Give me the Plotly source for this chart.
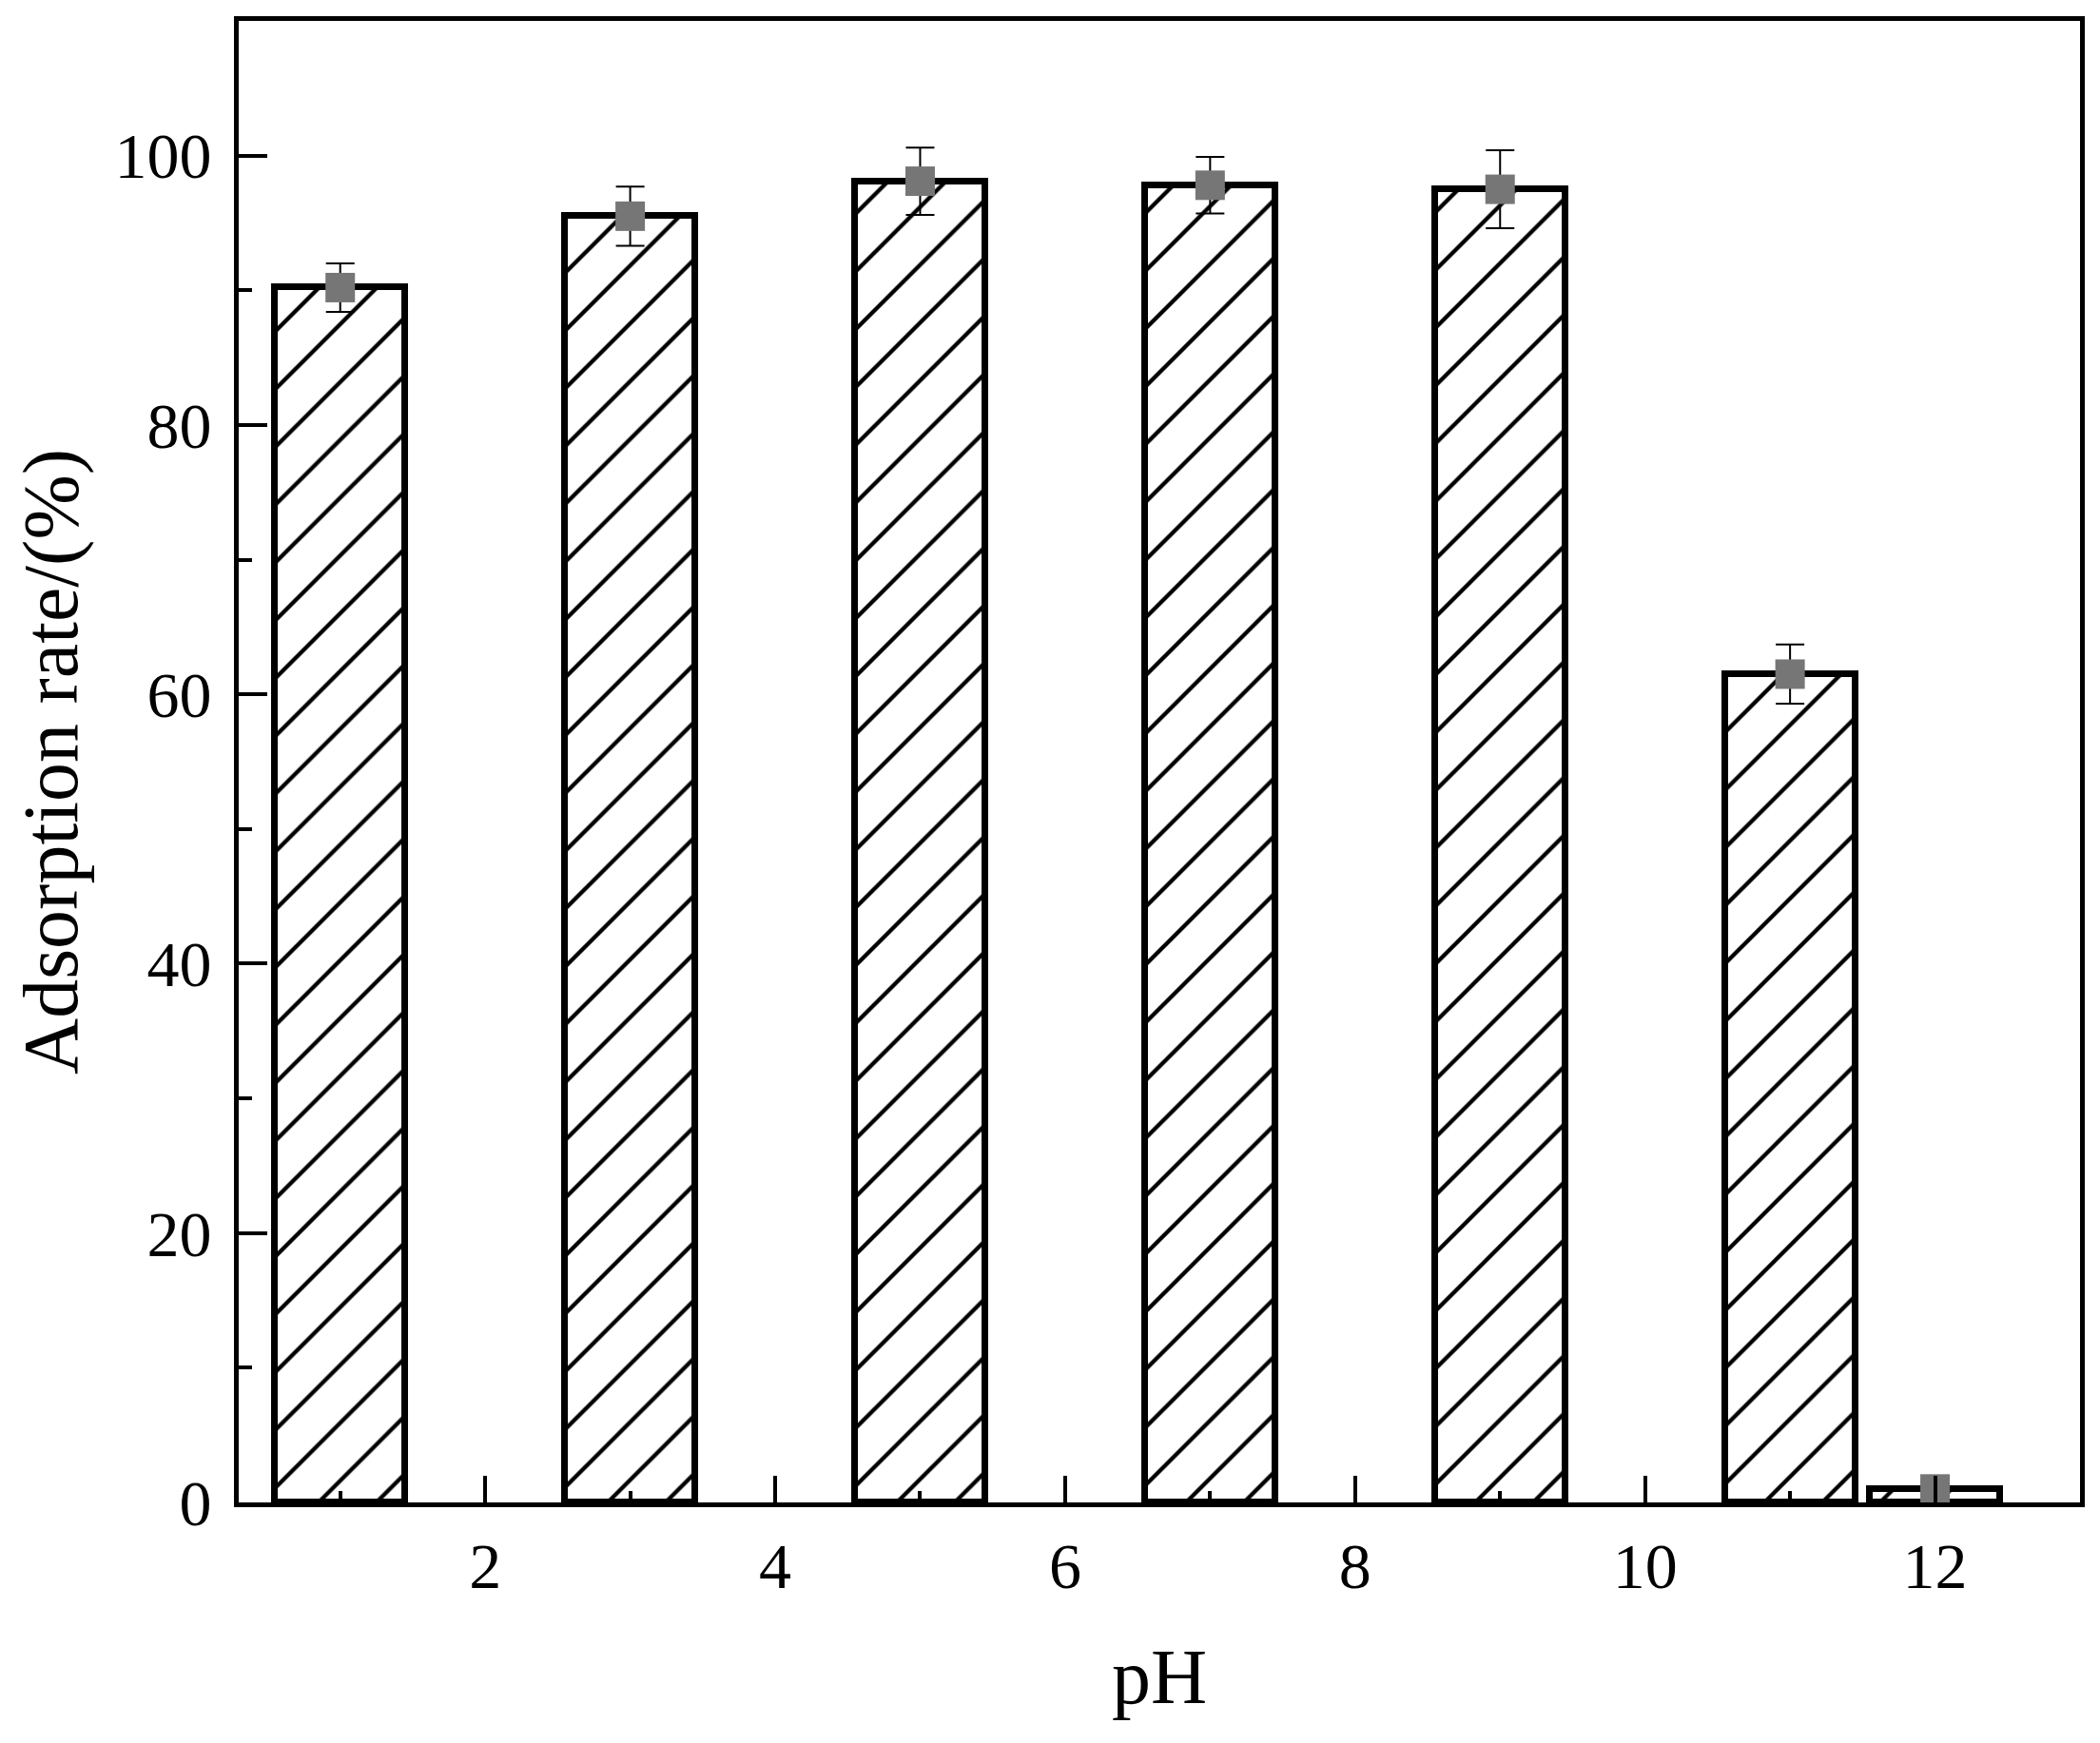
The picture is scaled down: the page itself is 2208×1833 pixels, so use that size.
import plotly.graph_objects as go

# Data
ph_values = [1, 3, 5, 7, 9, 11, 12]
adsorption_rate = [90.2, 95.5, 98.1, 97.8, 97.5, 61.5, 1.0]
error_values = [1.8, 2.2, 2.5, 2.1, 2.9, 2.2, 0.5]
x_tick_values = [2, 4, 6, 8, 10, 12]
y_tick_values = [0, 20, 40, 60, 80, 100]

FONT = "Liberation Serif"

fig = go.Figure()

fig.add_trace(go.Bar(
    x=ph_values,
    y=adsorption_rate,
    width=0.9,
    marker=dict(
        color="white",
        line=dict(color="black", width=7),
        pattern=dict(shape="/", fgcolor="black", fgopacity=1, bgcolor="white",
                     size=43, solidity=0.1, fillmode="replace"),
    ),
    showlegend=False,
))

fig.add_trace(go.Scatter(
    x=ph_values,
    y=adsorption_rate,
    mode="markers",
    marker=dict(symbol="square", size=31, color="#767676"),
    error_y=dict(type="data", array=error_values, visible=True, color="black", thickness=2, width=15),
    showlegend=False,
))

axis_common = dict(
    showline=True,
    linecolor="black",
    linewidth=5,
    mirror=True,
    showgrid=False,
    zeroline=False,
    ticks="inside",
    tickcolor="black",
    tickwidth=4,
    tickfont=dict(family=FONT, size=68, color="black"),
)

fig.update_layout(
    width=2208,
    height=1833,
    margin=dict(l=243, r=29, t=9, b=261),
    paper_bgcolor="white",
    plot_bgcolor="white",
    bargap=0,
    xaxis=dict(
        **axis_common,
        range=[0.3, 13],
        tickmode="array",
        tickvals=x_tick_values,
        ticklen=28,
        ticklabelstandoff=3,
        minor=dict(dtick=1, tick0=0, ticks="inside", ticklen=12, tickwidth=4, tickcolor="black"),
        title=dict(text="pH", font=dict(family=FONT, size=82, color="black"), standoff=52),
    ),
    yaxis=dict(
        **axis_common,
        range=[0, 110],
        tickmode="array",
        tickvals=y_tick_values,
        ticklen=30,
        ticklabelstandoff=10,
        minor=dict(dtick=10, tick0=0, ticks="inside", ticklen=14, tickwidth=4, tickcolor="black"),
        title=dict(text="Adsorption rate/(%)", font=dict(family=FONT, size=82, color="black"), standoff=36),
    ),
)

fig.write_html("out.html")
